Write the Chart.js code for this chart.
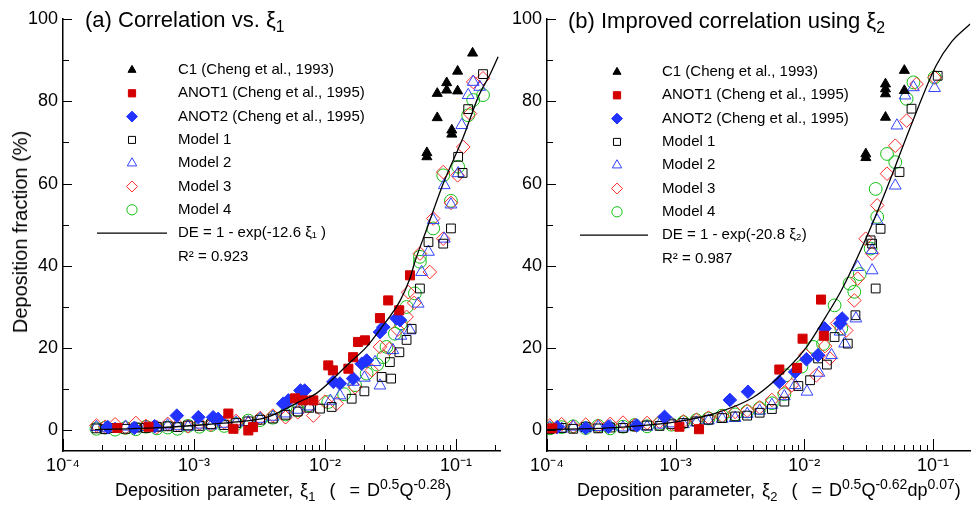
<!DOCTYPE html>
<html lang="en">
<head>
<meta charset="UTF-8" />
<title>Deposition fraction correlation</title>
<script src="https://cdn.jsdelivr.net/npm/chart.js"></script>
<style>
  body { margin: 0; background: #fff; width: 978px; height: 510px; overflow: hidden; position: relative;
         font-family: "Liberation Sans", Arial, sans-serif; }
  canvas { position: absolute; top: 0; }
  .t { position: absolute; white-space: nowrap; color: #000; line-height: 1; }
  .t sub, .t sup { font-size: 72%; line-height: 0; }
  .xt { font-size: 18px; word-spacing: 2px; }
  .xt sup { font-size: 78%; }
  .ytitle { transform: translate(-50%, -50%) rotate(-90deg); }
</style>
</head>
<body>
<canvas id="chartA" width="510" height="510" style="left:0"></canvas>
<canvas id="chartB" width="488" height="510" style="left:490px"></canvas>

<div class="t" style="left:85px; top:9px; font-size:22px">(a) Correlation vs. ξ<sub>1</sub></div>
<div class="t" style="left:568px; top:10px; font-size:22px">(b) Improved correlation using ξ<sub>2</sub></div>
<div class="t xt" style="left:115px; top:481px">Deposition parameter, ξ<sub>1</sub> &nbsp;( &nbsp;= D<sup>0.5</sup>Q<sup>-0.28</sup>)</div>
<div class="t xt" style="left:577px; top:481px">Deposition parameter, ξ<sub>2</sub> &nbsp;( &nbsp;= D<sup>0.5</sup>Q<sup>-0.62</sup>dp<sup>0.07</sup>)</div>
<div class="t ytitle" style="left:20px; top:232px; font-size:20px">Deposition fraction (%)</div>

<script>
// ---- data (x = deposition parameter, y = deposition fraction %) ----
const seriesNames = ["C1 (Cheng et al., 1993)", "ANOT1 (Cheng et al., 1995)", "ANOT2 (Cheng et al., 1995)",
  "Model 1", "Model 2", "Model 3", "Model 4"];

const yTicks = [0, 20, 40, 60, 80, 100];
const xTicks = [1e-4, 1e-3, 1e-2, 1e-1];
const xTickLabels = ["10⁻⁴", "10⁻³", "10⁻²", "10⁻¹"];

// panel (a): vs xi1
const a_C1 = [[0.134,91.7],[0.103,87.3],[0.085,84.5],[0.085,82.7],[0.072,81.9],[0.103,82.5],[0.072,76.0],
  [0.093,73.0],[0.093,72.0],[0.060,67.5],[0.060,66.5]];
const a_ANOT1 = [[2.6e-4,0.6],[4.5e-4,0.9],[1.83e-3,4.1],[2.0e-3,0.4],[2.6e-3,0.0],[2.82e-3,0.8],[5.9e-3,7.8],
  [6.8e-3,7.3],[8.15e-3,7.3],[0.0106,15.8],[0.0115,14.6],[0.0151,15.0],[0.0164,17.8],[0.0179,21.5],[0.0202,21.9],
  [0.0263,27.3],[0.0304,31.6],[0.0369,29.2],[0.0446,37.7]];
const a_ANOT2 = [[2.2e-4,0.8],[3.5e-4,0.6],[5e-4,1.0],[7.4e-4,3.6],[1.08e-3,3.2],[1.4e-3,3.2],[1.53e-3,2.8],
  [4.8e-3,6.5],[5.25e-3,7.3],[6.5e-3,9.7],[7.0e-3,9.7],[0.0116,11.8],[0.013,11.4],[0.0164,12.6],[0.0191,16.2],
  [0.0208,17.0],[0.0263,23.9],[0.0279,25.1],[0.0352,27.2],[0.0374,26.8]];
const a_M1 = [[1.8e-4,0.5],[2.1e-4,0.3],[2.5e-4,0.6],[3e-4,0.4],[3.6e-4,0.7],[4.3e-4,0.6],[5.2e-4,0.9],[6.3e-4,1.0],
  [7.5e-4,0.8],[9e-4,1.2],[1.1e-3,1.1],[1.35e-3,1.5],[1.7e-3,1.3],[2.1e-3,1.8],[2.6e-3,2.2],[3.2e-3,2.6],[4e-3,2.9],
  [5e-3,3.8],[6.2e-3,4.6],[7.6e-3,5.5],[0.00916,5.3],[0.01125,5.7],[0.016,7.7],[0.02,9.5],[0.0271,13.0],[0.0313,16.6],
  [0.032,12.6],[0.037,19.0],[0.042,22.0],[0.0459,24.7],[0.0531,34.5],[0.0617,45.8],[0.08,45.4],[0.0916,49.1],
  [0.104,66.5],[0.1125,62.6],[0.124,78.1],[0.161,86.6]];
const a_M2 = [[1.8e-4,0.8],[2.1e-4,0.5],[2.5e-4,0.4],[3e-4,0.9],[3.6e-4,0.5],[4.3e-4,0.8],[5.2e-4,0.7],[6.3e-4,1.2],
  [7.5e-4,1.0],[9e-4,0.9],[1.1e-3,1.4],[1.35e-3,1.2],[1.7e-3,1.6],[2.1e-3,1.9],[2.6e-3,2.0],[3.2e-3,2.8],[4e-3,3.3],
  [5e-3,4.1],[6.2e-3,5.0],[7.6e-3,5.8],[0.011,7.2],[0.013,8.5],[0.0164,11.8],[0.02,12.8],[0.0241,16.6],[0.0263,10.9],
  [0.033,19.5],[0.038,23.0],[0.0446,24.3],[0.0515,30.8],[0.0547,38.5],[0.0617,43.4],[0.0671,51.1],[0.0815,46.6],
  [0.0815,59.6],[0.0916,54.9],[0.104,62.5],[0.1107,74.2],[0.124,81.5],[0.1355,84.7],[0.152,83.5]];
const a_M3 = [[1.8e-4,1.2],[2.1e-4,0.9],[2.5e-4,1.5],[3e-4,0.7],[3.6e-4,1.8],[4.3e-4,1.1],[5.2e-4,0.8],[6.3e-4,1.6],
  [7.5e-4,1.3],[9e-4,1.0],[1.1e-3,1.7],[1.35e-3,1.4],[1.7e-3,1.9],[2.1e-3,2.3],[2.6e-3,1.6],[3.2e-3,3.0],[4e-3,3.6],
  [5e-3,3.2],[6.2e-3,4.4],[0.00815,3.6],[0.01,7.0],[0.0123,6.5],[0.017,10.5],[0.0228,14.6],[0.0263,20.3],[0.031,19.8],
  [0.036,24.5],[0.042,27.6],[0.0433,33.6],[0.048,31.0],[0.0531,43.0],[0.0632,38.5],[0.0671,51.5],[0.08,46.6],
  [0.08,62.8],[0.0916,55.3],[0.103,62.0],[0.1137,68.9],[0.128,77.0],[0.1355,84.7],[0.161,85.6]];
const a_M4 = [[1.8e-4,0.4],[2.1e-4,0.7],[2.5e-4,0.2],[3e-4,0.6],[3.6e-4,0.3],[4.3e-4,0.9],[5.2e-4,0.5],[6.3e-4,0.7],
  [7.5e-4,0.4],[9e-4,1.1],[1.1e-3,0.9],[1.35e-3,1.3],[1.7e-3,1.1],[2.1e-3,1.6],[2.6e-3,2.4],[3.2e-3,2.5],[4e-3,3.1],
  [5e-3,3.9],[6.2e-3,4.9],[7.6e-3,6.1],[0.0106,6.9],[0.014,8.8],[0.017,11.0],[0.0208,13.8],[0.025,16.0],[0.0279,17.8],
  [0.0295,20.3],[0.0342,23.5],[0.038,26.0],[0.042,30.0],[0.0486,33.3],[0.0531,41.0],[0.0531,42.2],[0.0671,49.1],
  [0.08,62.0],[0.0916,55.8],[0.104,64.1],[0.124,76.6],[0.1355,80.3],[0.161,81.5]];
const a_fit = [[1.75e-4,0.2],[5e-4,0.6],[1e-3,1.2],[2e-3,2.0],[3.6e-3,3.2],[6.4e-3,7.0],[8.6e-3,9.0],[0.0155,16.5],
  [0.0208,20.3],[0.0263,24.5],[0.0374,31.5],[0.0446,37.0],[0.0486,41.0],[0.06,49.0],[0.08,60.0],[0.114,71.4],
  [0.15,81.5],[0.182,86.5],[0.21,90.8]];

// panel (b): vs xi2
const b_C1 = [[0.060,87.5],[0.0428,84.2],[0.0428,83.0],[0.0428,81.8],[0.060,82.6],[0.0428,76.1],[0.0301,67.2],
  [0.0301,66.3]];
const b_ANOT1 = [[1.1e-4,0.5],[1.07e-3,0.9],[1.52e-3,0.3],[6.4e-3,14.8],[8.8e-3,15.2],[9.7e-3,22.3],[0.0135,31.8],
  [0.0142,23.0]];
const b_ANOT2 = [[1.2e-4,0.8],[2e-4,0.6],[3e-4,0.9],[5e-4,1.2],[8.2e-4,3.3],[2.64e-3,7.4],[3.65e-3,9.4],[6.4e-3,11.8],
  [8.5e-3,14.2],[0.0104,17.3],[0.0128,18.3],[0.0144,24.8],[0.0197,27.2],[0.019,26.0]];
const b_M1 = [[1.05e-4,0.3],[1.3e-4,0.6],[1.6e-4,0.4],[2e-4,0.8],[2.5e-4,0.5],[3.1e-4,0.7],[3.9e-4,0.6],[4.8e-4,1.0],
  [6e-4,1.2],[7.5e-4,1.1],[9.3e-4,1.5],[1.15e-3,1.8],[1.45e-3,2.2],[1.8e-3,2.6],[2.3e-3,3.0],[2.9e-3,3.4],[3.6e-3,3.6],
  [4.5e-3,4.3],[5.6e-3,5.2],[7e-3,7.0],[0.009,10.8],[0.0111,12.2],[0.0128,17.5],[0.015,16.0],[0.0172,22.7],
  [0.0218,21.1],[0.025,28.0],[0.0328,46.2],[0.0337,45.4],[0.0359,34.5],[0.0392,49.0],[0.055,62.8],[0.0682,78.2],
  [0.109,86.2]];
const b_M2 = [[1.05e-4,0.7],[1.3e-4,0.4],[1.6e-4,0.9],[2e-4,0.5],[2.5e-4,0.8],[3.1e-4,1.0],[3.9e-4,0.7],[4.8e-4,1.1],
  [6e-4,0.9],[7.5e-4,1.4],[9.3e-4,1.7],[1.15e-3,1.5],[1.45e-3,1.9],[1.8e-3,2.4],[2.3e-3,2.8],[2.9e-3,3.0],[3.6e-3,4.0],
  [4.5e-3,4.8],[5.6e-3,6.2],[7e-3,8.3],[0.0085,11.0],[0.0105,9.4],[0.013,14.0],[0.0163,18.3],[0.019,24.0],
  [0.0206,21.1],[0.0252,27.2],[0.026,39.7],[0.0337,38.9],[0.0337,43.8],[0.0369,51.0],[0.051,59.5],[0.0525,74.1],
  [0.0607,81.4],[0.0706,83.4],[0.103,83.2]];
const b_M3 = [[1.05e-4,1.2],[1.3e-4,1.5],[1.6e-4,0.9],[2e-4,1.4],[2.5e-4,1.1],[3.1e-4,1.6],[3.9e-4,1.9],[4.8e-4,1.3],
  [6e-4,1.8],[7.5e-4,2.1],[9.3e-4,1.6],[1.15e-3,2.2],[1.45e-3,2.6],[1.8e-3,3.1],[2.3e-3,3.5],[2.9e-3,4.5],[3.6e-3,4.8],
  [4.5e-3,5.6],[5.6e-3,7.4],[7e-3,9.2],[0.008,11.0],[0.0102,18.3],[0.0124,13.4],[0.0145,20.5],[0.0158,17.5],
  [0.018,26.0],[0.0212,24.3],[0.0245,31.6],[0.026,36.9],[0.030,46.6],[0.0337,43.0],[0.0369,54.7],[0.044,62.4],
  [0.051,69.2],[0.0625,75.3],[0.0746,84.2],[0.103,85.8]];
const b_M4 = [[1.05e-4,0.5],[1.3e-4,0.8],[1.6e-4,1.0],[2e-4,0.6],[2.5e-4,1.1],[3.1e-4,0.5],[3.9e-4,0.9],[4.8e-4,1.3],
  [6e-4,1.0],[7.5e-4,1.6],[9.3e-4,1.4],[1.15e-3,2.0],[1.45e-3,2.5],[1.8e-3,2.9],[2.3e-3,3.6],[2.9e-3,3.9],[3.6e-3,4.6],
  [4.5e-3,5.4],[5.6e-3,6.6],[7e-3,8.8],[0.0072,13.4],[0.0095,15.5],[0.0117,20.3],[0.014,21.0],[0.0172,30.4],
  [0.0194,24.8],[0.0225,35.7],[0.0245,33.7],[0.027,38.0],[0.0328,44.2],[0.0369,51.9],[0.0359,58.7],[0.044,67.2],
  [0.051,65.2],[0.0625,80.6],[0.0706,84.6],[0.103,85.8]];
const b_fit = [[1e-4,0.2],[3e-4,0.6],[1e-3,2.1],[2e-3,4.1],[4e-3,8.0],[6e-3,12.3],[0.01,19.5],[0.0146,27.5],
  [0.0194,34.0],[0.031,47.5],[0.044,59.0],[0.0664,73.5],[0.106,88.7],[0.14,94.5],[0.195,98.8]];

// ---- styles ----
const styles = [
  { pointStyle: "triangle", radius: 5.8, fill: "#000", stroke: "#000" },
  { pointStyle: "rect", radius: 6.4, fill: "#d40000", stroke: "#d40000" },
  { pointStyle: "rectRot", radius: 6.8, fill: "#2233ff", stroke: "#2233ff" },
  { pointStyle: "rect", radius: 6.2, fill: "rgba(0,0,0,0)", stroke: "#000" },
  { pointStyle: "triangle", radius: 6.8, fill: "rgba(0,0,0,0)", stroke: "#3344ff" },
  { pointStyle: "rectRot", radius: 6.8, fill: "rgba(0,0,0,0)", stroke: "#ff2a2a" },
  { pointStyle: "circle", radius: 6.4, fill: "rgba(0,0,0,0)", stroke: "#10c010" }
];
const font = '"Liberation Sans", Arial, sans-serif';

const toXY = (list) => list.map(([x, y]) => ({ x, y }));

// tick marks drawn inside the plot, like the original figure
const innerTicks = {
  id: "innerTicks",
  afterDraw(chart) {
    const { ctx, chartArea: a, scales: { x, y } } = chart;
    ctx.save();
    ctx.strokeStyle = "#000";
    ctx.lineWidth = 1;
    ctx.beginPath();
    for (let e = -4; e <= -1; e++) {
      for (let m = 1; m <= 9; m++) {
        const v = m * Math.pow(10, e);
        if (v < x.min * 0.999 || v > x.max) continue;
        const px = Math.round(x.getPixelForValue(v)) + 0.5;
        ctx.moveTo(px, a.bottom);
        ctx.lineTo(px, a.bottom - (m === 1 ? 12 : 6));
      }
    }
    for (let v = 0; v <= 100; v += 10) {
      const py = Math.round(y.getPixelForValue(v)) + 0.5;
      ctx.moveTo(a.left, py);
      ctx.lineTo(a.left + (v % 20 === 0 ? 9 : 6), py);
    }
    ctx.stroke();
    ctx.restore();
  }
};

// legend inside the plot area
const insideLegend = {
  id: "insideLegend",
  afterDatasetsDraw(chart, args, o) {
    const ctx = chart.ctx;
    ctx.save();
    ctx.font = "15px " + font;
    ctx.textBaseline = "middle";
    seriesNames.forEach((name, i) => {
      const s = styles[i];
      const yy = o.top + i * o.step;
      ctx.fillStyle = s.fill;
      ctx.strokeStyle = s.stroke;
      ctx.lineWidth = 1;
      Chart.helpers.drawPoint(ctx, { pointStyle: s.pointStyle, radius: s.radius * 0.8, rotation: 0, borderWidth: 1 },
        o.markerX, yy);
      ctx.fillStyle = "#000";
      ctx.fillText(name, o.textX, yy);
    });
    const ly = o.top + 7 * o.step;
    ctx.strokeStyle = "#000";
    ctx.lineWidth = 1.2;
    ctx.beginPath();
    ctx.moveTo(o.lineX0, ly);
    ctx.lineTo(o.lineX1, ly);
    ctx.stroke();
    ctx.fillStyle = "#000";
    ctx.fillText(o.fitLabel, o.textX, ly);
    ctx.fillText(o.r2Label, o.textX, ly + o.step);
    ctx.restore();
  }
};

function makeChart(id, series, fit, xMax, yWidth, rightPad, legend) {
  const datasets = series.map((pts, i) => ({
    label: seriesNames[i],
    data: toXY(pts),
    pointStyle: styles[i].pointStyle,
    pointRadius: styles[i].radius,
    backgroundColor: styles[i].fill,
    borderColor: styles[i].stroke,
    borderWidth: 1
  }));
  datasets.push({
    label: "fit",
    data: toXY(fit),
    showLine: true,
    pointRadius: 0,
    borderColor: "#000",
    borderWidth: 1.3,
    cubicInterpolationMode: "monotone",
    order: -1
  });
  return new Chart(document.getElementById(id), {
    type: "scatter",
    data: { datasets },
    plugins: [innerTicks, insideLegend],
    options: {
      responsive: false,
      animation: false,
      layout: { padding: { top: 19, right: rightPad, left: 0, bottom: 0 } },
      plugins: { legend: { display: false }, tooltip: { enabled: false }, insideLegend: legend },
      scales: {
        x: {
          type: "logarithmic",
          min: 1e-4,
          max: xMax,
          grid: { display: false, drawTicks: false },
          border: { display: true, color: "#000", width: 1.5 },
          afterBuildTicks: (s) => { s.ticks = xTicks.filter(v => v <= xMax).map(v => ({ value: v })); },
          afterFit: (s) => { s.height = 59; },
          ticks: {
            autoSkip: false, maxRotation: 0, padding: 4, color: "#000",
            font: { family: font, size: 18 },
            callback: (v, i) => xTickLabels[i]
          }
        },
        y: {
          min: -5,
          max: 100,
          grid: { display: false, drawTicks: false },
          border: { display: true, color: "#000", width: 1.5 },
          afterBuildTicks: (s) => { s.ticks = yTicks.map(v => ({ value: v })); },
          afterFit: (s) => { s.width = yWidth; },
          ticks: { padding: 5, color: "#000", font: { family: font, size: 18 } }
        }
      }
    }
  });
}

makeChart("chartA", [a_C1, a_ANOT1, a_ANOT2, a_M1, a_M2, a_M3, a_M4], a_fit, 0.217, 63, 10,
  { markerX: 132, textX: 178, top: 70, step: 23.3, lineX0: 97, lineX1: 167,
    fitLabel: "DE = 1 - exp(-12.6 ξ₁ )", r2Label: "R² = 0.923" });
makeChart("chartB", [b_C1, b_ANOT1, b_ANOT2, b_M1, b_M2, b_M3, b_M4], b_fit, 0.195, 57, 0,
  { markerX: 127, textX: 172, top: 72, step: 23.3, lineX0: 90, lineX1: 158,
    fitLabel: "DE = 1 - exp(-20.8 ξ₂)", r2Label: "R² = 0.987" });
</script>
</body>
</html>
